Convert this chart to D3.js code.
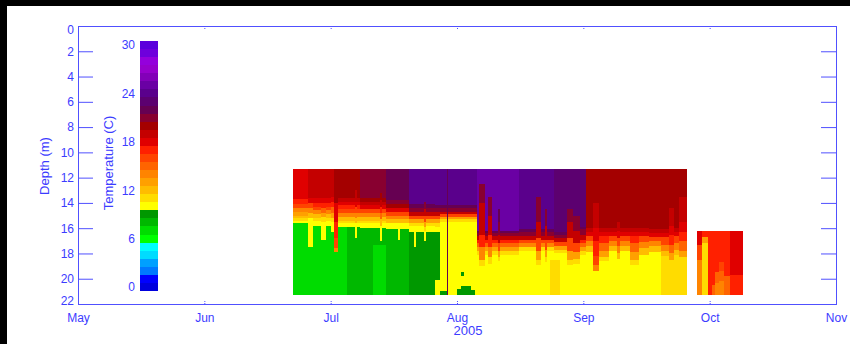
<!DOCTYPE html>
<html>
<head>
<meta charset="utf-8">
<script src="https://cdn.jsdelivr.net/npm/d3@7"></script>
<style>
  html, body { margin: 0; padding: 0; background: #000; }
  svg { display: block; font-family: "Liberation Sans", Arial, sans-serif; }
</style>
</head>
<body>
<div id="chart"></div>
<script>
// ---- data ----
const monthLabels = ['May', 'Jun', 'Jul', 'Aug', 'Sep', 'Oct', 'Nov'];
const yearLabel = '2005';
const depthTicks = [0, 2, 4, 6, 8, 10, 12, 14, 16, 18, 20, 22];
const tempTicks = [0, 6, 12, 18, 24, 30];

// one colour per degree C, 0..30
const tempColors = [
  '#0000dd', '#0000ff', '#0078ff', '#00a0ff', '#00dcff', '#00ffff',
  '#00ff00', '#00dc00', '#00b800', '#009800',
  '#ffff00', '#ffdc00', '#ffbc00', '#ffa000', '#ff8400', '#ff6400',
  '#ff4400', '#ff2000', '#e00000', '#c40000', '#a40000', '#880030',
  '#660052', '#5c0070', '#5a008c', '#6a00a4', '#8200b8', '#9600cc',
  '#9400dc', '#6e00dc', '#5a00dc'
];

const bottomDepth = 21.25;            // m, deepest sensor
const deployEnd = [268.7, 282.1];     // day of year each record stops

// [start day of year, [[depth where layer starts (m), temperature (C)], ...]]
const summerColumns = [
  [172.94, [[11.3,18],[13.7,17],[14.1,16],[14.4,14],[14.7,13],[15.0,12],[15.2,11],[15.4,10],[15.6,7]]],
  [176.5,  [[11.3,19],[13.6,18],[14.0,16],[14.4,14],[14.8,12],[15.2,10],[17.5,7]]],
  [177.7,  [[11.3,19],[13.6,18],[14.0,17],[14.3,16],[14.6,14],[14.9,12],[15.2,11],[15.4,10],[15.8,7]]],
  [179.6,  [[11.3,19],[13.6,18],[14.0,17],[14.4,15],[14.8,13],[15.1,11],[15.5,10],[16.9,7]]],
  [180.8,  [[11.3,19],[13.6,18],[14.0,17],[14.3,16],[14.6,14],[14.9,12],[15.2,11],[15.4,10],[15.8,7]]],
  [182.0,  [[11.3,19],[13.5,18],[13.9,17],[14.3,15],[14.8,13],[15.2,11],[15.5,10],[16.3,7]]],
  [182.9,  [[11.3,20],[14.0,18],[15.5,17],[16.8,16],[17.6,14],[17.9,7]]],
  [183.7,  [[11.3,20],[13.6,19],[13.9,18],[14.2,17],[14.5,16],[14.8,14],[15.1,12],[15.4,11],[15.6,10],[15.9,7]]],
  [186.1,  [[11.3,20],[13.6,19],[13.9,18],[14.2,17],[14.5,16],[14.8,14],[15.1,12],[15.4,11],[15.6,10],[15.9,8]]],
  [188.0,  [[11.3,20],[13.0,19],[13.9,18],[14.3,16],[14.8,14],[15.2,12],[15.6,10],[16.8,8]]],
  [188.5,  [[11.3,20],[13.6,19],[13.9,18],[14.2,17],[14.5,16],[14.8,14],[15.1,12],[15.4,11],[15.6,10],[15.9,8]]],
  [189.3,  [[11.3,21],[13.6,20],[13.9,19],[14.2,18],[14.5,16],[14.8,14],[15.1,12],[15.4,11],[15.6,10],[15.95,8]]],
  [192.3,  [[11.3,21],[13.6,20],[13.9,19],[14.2,18],[14.5,16],[14.8,14],[15.1,12],[15.4,11],[15.6,10],[15.95,8],[17.3,7]]],
  [194.2,  [[11.3,21],[13.2,20],[13.8,19],[14.3,17],[14.8,15],[15.3,12],[15.8,10],[17.0,8],[17.3,7]]],
  [194.6,  [[11.3,21],[13.6,20],[13.9,19],[14.2,18],[14.5,16],[14.8,14],[15.1,12],[15.4,11],[15.6,10],[15.95,8],[17.3,7]]],
  [195.5,  [[11.3,22],[13.8,21],[14.1,20],[14.4,18],[14.7,16],[15.0,14],[15.3,12],[15.6,10],[16.1,8]]],
  [198.4,  [[11.3,22],[13.8,21],[14.1,20],[14.4,18],[14.7,16],[15.0,14],[15.3,12],[15.6,10],[16.9,8]]],
  [199.1,  [[11.3,22],[13.8,21],[14.1,20],[14.4,18],[14.7,16],[15.0,14],[15.3,12],[15.6,10],[16.1,8]]],
  [201.3,  [[11.3,24],[14.1,22],[14.4,21],[14.7,19],[15.0,16],[15.3,13],[15.6,11],[15.8,10],[16.3,9]]],
  [202.5,  [[11.3,24],[14.1,22],[14.4,21],[14.7,19],[15.0,16],[15.3,13],[15.6,11],[15.8,10],[17.5,9]]],
  [202.9,  [[11.3,24],[14.1,22],[14.4,21],[14.7,19],[15.0,16],[15.3,13],[15.6,11],[15.8,10],[16.3,9]]],
  [205.0,  [[11.3,24],[13.9,21],[14.5,19],[15.0,16],[15.5,13],[15.9,11],[16.2,10],[17.0,9]]],
  [205.5,  [[11.3,24],[14.1,22],[14.4,21],[14.7,19],[15.0,16],[15.3,13],[15.6,11],[15.8,10],[16.3,9]]],
  [207.5,  [[11.3,24],[14.2,22],[14.4,21],[14.7,19],[15.0,16],[15.3,13],[15.6,11],[15.9,10],[16.3,9],[20.1,10]]],
  [208.9,  [[11.3,24],[14.2,22],[14.4,21],[14.7,19],[14.9,16],[15.1,13],[15.3,11],[15.5,10],[21.0,9]]],
  [210.6,  [[11.3,22]]],
  [210.9,  [[11.3,24],[14.2,22],[14.4,21],[14.7,19],[14.9,16],[15.1,13],[15.3,11],[15.5,10]]],
  [213.1,  [[11.3,24],[14.2,22],[14.4,21],[14.7,19],[14.9,16],[15.1,13],[15.3,11],[15.5,10],[20.8,9]]],
  [214.0,  [[11.3,24],[14.2,22],[14.4,21],[14.7,19],[14.9,16],[15.1,13],[15.3,11],[15.5,10],[19.5,9],[19.8,10],[20.6,9]]],
  [214.8,  [[11.3,24],[14.2,22],[14.4,21],[14.7,19],[14.9,16],[15.1,13],[15.3,11],[15.5,10],[20.6,9]]],
  [216.5,  [[11.3,24],[14.2,22],[14.4,21],[14.7,19],[14.9,16],[15.1,13],[15.3,11],[15.5,10],[20.9,9]]],
  [217.5,  [[11.3,24],[14.2,22],[14.4,21],[14.7,19],[14.9,16],[15.1,13],[15.3,11],[15.5,10]]],
  [217.8,  [[11.3,25],[16.2,22],[16.4,21],[16.6,19],[16.9,17],[17.2,15],[17.5,13],[17.8,11],[18.1,10]]],
  [218.5,  [[11.3,25],[12.5,21],[14.0,19],[16.5,17],[17.5,14],[18.5,11],[19.0,10]]],
  [219.8,  [[11.3,25],[16.2,22],[16.4,21],[16.6,19],[16.9,17],[17.2,15],[17.5,13],[17.8,11],[18.1,10]]],
  [220.5,  [[11.3,25],[13.5,21],[15.0,19],[16.5,17],[17.5,14],[18.3,11],[18.8,10]]],
  [221.7,  [[11.3,25],[16.2,22],[16.4,21],[16.6,19],[16.9,17],[17.2,15],[17.5,13],[17.8,11],[18.1,10]]],
  [223.0,  [[11.3,25],[14.5,22],[15.5,21],[16.5,19],[17.2,16],[17.8,13],[18.3,11],[18.6,10]]],
  [223.5,  [[11.3,25],[16.2,22],[16.4,21],[16.6,19],[16.9,17],[17.2,15],[17.5,13],[17.8,11],[18.1,10]]],
  [228.3,  [[11.3,24],[16.1,22],[16.3,21],[16.6,19],[16.9,16],[17.2,14],[17.5,11],[17.8,10]]],
  [232.5,  [[11.3,24],[13.5,21],[15.5,19],[16.8,16],[17.8,13],[18.5,11],[18.9,10]]],
  [233.7,  [[11.3,24],[16.1,22],[16.3,21],[16.6,19],[16.9,16],[17.2,14],[17.5,11],[17.8,10]]],
  [234.5,  [[11.3,24],[14.5,21],[15.8,19],[16.9,16],[17.7,13],[18.3,11],[18.7,10]]],
  [235.0,  [[11.3,24],[16.1,22],[16.3,21],[16.6,19],[16.9,16],[17.2,14],[17.5,11],[17.8,10]]],
  [235.7,  [[11.3,24],[16.1,22],[16.3,21],[16.6,19],[16.9,16],[17.2,14],[17.5,11],[17.8,10],[18.5,11]]],
  [236.9,  [[11.3,23],[16.3,22],[16.5,21],[16.8,19],[17.1,16],[17.4,13],[17.7,11],[18.0,10],[18.5,11]]],
  [238.2,  [[11.3,23],[16.3,22],[16.5,21],[16.8,19],[17.1,16],[17.4,13],[17.7,11],[18.0,10]]],
  [239.9,  [[11.3,23],[14.5,21],[15.5,19],[16.8,16],[17.8,13],[18.5,11],[18.9,10]]],
  [241.4,  [[11.3,23],[15.0,21],[16.2,19],[17.2,16],[17.9,13],[18.4,11],[18.8,10]]],
  [243.1,  [[11.3,23],[15.9,22],[16.1,21],[16.5,19],[16.9,17],[17.2,15],[17.5,13],[17.8,11],[18.1,10]]],
  [244.75, [[11.3,20],[16.0,19],[16.3,18],[16.6,16],[17.0,14],[17.4,12],[17.9,10]]],
  [246.2,  [[11.3,20],[14.0,19],[16.0,18],[17.0,17],[18.2,16],[18.9,14],[19.4,10]]],
  [247.8,  [[11.3,20],[16.0,19],[16.3,18],[16.6,17],[17.2,15],[17.8,13],[18.3,11],[18.6,10]]],
  [250.2,  [[11.3,20],[16.0,19],[16.3,18],[16.6,16],[17.0,14],[17.4,12],[17.8,10]]],
  [252.0,  [[11.3,20],[15.5,19],[16.2,18],[16.8,16],[17.4,14],[18.0,12],[18.4,10]]],
  [252.6,  [[11.3,20],[16.0,19],[16.3,18],[16.6,16],[17.0,14],[17.4,12],[17.8,10]]],
  [255.0,  [[11.3,20],[16.0,19],[16.3,18],[16.6,17],[17.2,15],[17.9,13],[18.5,11],[18.9,10]]],
  [257.3,  [[11.3,20],[16.0,19],[16.3,18],[16.6,16],[17.1,14],[17.6,12],[18.1,10]]],
  [259.7,  [[11.3,20],[16.1,19],[16.4,18],[16.7,16],[17.0,14],[17.4,12],[17.9,10]]],
  [262.5,  [[11.3,20],[16.1,19],[16.4,18],[16.7,16],[17.3,14],[17.8,12],[18.2,11]]],
  [264.4,  [[11.3,20],[14.4,19],[15.8,18],[16.5,17],[17.3,15],[18.0,13],[18.5,11]]],
  [265.6,  [[11.3,20],[16.0,19],[16.3,18],[16.6,16],[17.2,14],[17.7,12],[18.1,11]]],
  [266.8,  [[11.3,20],[13.5,19],[15.5,18],[16.3,17],[17.0,15],[17.8,13],[18.3,11]]]
];

const autumnColumns = [
  [271.0,  [[16.25,18],[17.3,16],[18.5,14]]],
  [272.07, [[16.25,17],[16.7,13],[17.2,11]]],
  [273.5,  [[16.25,17]]],
  [274.45, [[16.25,17],[20.5,15]]],
  [275.4,  [[16.25,17],[19.5,15],[20.3,14]]],
  [276.4,  [[16.25,17],[18.7,16],[19.4,15],[20.2,14]]],
  [277.4,  [[16.25,17],[19.8,15]]],
  [278.9,  [[16.25,18],[19.7,17]]]
];

// ---- layout ----
const W = 850, H = 344;
const plot = {left: 78, right: 836, top: 26, bottom: 304};
const blue = '#3c3cff';
const lineBlue = '#5050ff';

const svg = d3.select('#chart').append('svg')
  .attr('width', W)
  .attr('height', H);

svg.append('rect').attr('width', W).attr('height', H).attr('fill', '#000');
svg.append('rect').attr('x', 7).attr('y', 6).attr('width', W - 7).attr('height', H - 6).attr('fill', '#fff');

const monthDates = monthLabels.map((m, i) => new Date(2005, 4 + i, 1));
const step = (plot.right - plot.left) / (monthDates.length - 1);
const x = d3.scaleTime()
  .domain(monthDates)
  .range(monthDates.map((d, i) => plot.left + i * step));

const y = d3.scaleLinear()
  .domain([0, 22])
  .range([plot.top, plot.bottom]);

const dayToDate = (doy) => new Date(new Date(2005, 0, 1).getTime() + (doy - 1) * 864e5);

// flatten the columns into cells
function toCells(cols, end) {
  const cells = [];
  cols.forEach(([day, prof], i) => {
    const next = i < cols.length - 1 ? cols[i + 1][0] : end;
    const x0 = Math.round(x(dayToDate(day)));
    const x1 = Math.max(x0 + 1, Math.round(x(dayToDate(next))));
    prof.forEach(([d, t], j) => {
      const dNext = j < prof.length - 1 ? prof[j + 1][0] : bottomDepth;
      const y0 = Math.round(y(d));
      const y1 = Math.round(y(dNext));
      cells.push({x0, x1, y0, y1, t});
    });
  });
  return cells;
}

const cells = toCells(summerColumns, deployEnd[0]).concat(toCells(autumnColumns, deployEnd[1]));

svg.append('g')
  .attr('shape-rendering', 'crispEdges')
  .selectAll('rect')
  .data(cells)
  .join('rect')
    .attr('x', (d) => d.x0)
    .attr('y', (d) => d.y0)
    .attr('width', (d) => d.x1 - d.x0)
    .attr('height', (d) => d.y1 - d.y0)
    .attr('fill', (d) => tempColors[d.t]);

// frame
svg.append('rect')
  .attr('x', plot.left + 0.5)
  .attr('y', plot.top + 0.5)
  .attr('width', plot.right - plot.left)
  .attr('height', plot.bottom - plot.top)
  .attr('fill', 'none')
  .attr('stroke', lineBlue);

function styleAxis(g, size) {
  g.select('.domain').remove();
  g.selectAll('line').attr('stroke', lineBlue);
  g.selectAll('text')
    .attr('fill', blue)
    .attr('font-size', size)
    .attr('font-family', '"Liberation Sans", Arial, sans-serif');
}

// depth axes
const yLeft = svg.append('g')
  .attr('transform', `translate(${plot.left},0)`)
  .call(d3.axisLeft(y).tickValues(depthTicks).tickSize(-15).tickPadding(4))
  .call(styleAxis, 12);
yLeft.selectAll('.tick')
  .filter((d) => d === 0 || d === 22)
  .select('line').remove();
yLeft.selectAll('.tick text')
  .attr('dy', (d) => d === 0 ? '0.62em' : d === 22 ? '0.08em' : '0.32em');

svg.append('g')
  .attr('transform', `translate(${plot.right},0)`)
  .call(d3.axisRight(y).tickValues(depthTicks.slice(1, -1)).tickSize(-15).tickFormat(''))
  .call(styleAxis, 12);

// month axes (short dotted ticks inside the frame)
svg.append('g')
  .attr('transform', `translate(0,${plot.bottom})`)
  .call(d3.axisBottom(x).tickValues(monthDates).tickSize(-4).tickPadding(9)
    .tickFormat((d, i) => monthLabels[i]))
  .call(styleAxis, 12)
  .selectAll('line').attr('stroke-dasharray', '1,1');

svg.append('g')
  .attr('transform', `translate(0,${plot.top})`)
  .call(d3.axisTop(x).tickValues(monthDates).tickSize(-4).tickFormat(''))
  .call(styleAxis, 12)
  .selectAll('line').attr('stroke-dasharray', '1,1');

svg.append('text')
  .attr('x', 468)
  .attr('y', 335)
  .attr('text-anchor', 'middle')
  .attr('fill', blue)
  .attr('font-size', 13)
  .text(yearLabel);

svg.append('text')
  .attr('transform', 'translate(49,166) rotate(-90)')
  .attr('text-anchor', 'middle')
  .attr('fill', blue)
  .attr('font-size', 13)
  .text('Depth (m)');

// colour bar
const cY = d3.scaleLinear()
  .domain([-0.5, 30.5])
  .range([291, 41]);

svg.append('g')
  .attr('shape-rendering', 'crispEdges')
  .selectAll('rect')
  .data(tempColors)
  .join('rect')
    .attr('x', 140)
    .attr('width', 18)
    .attr('y', (c, t) => Math.round(cY(t + 0.5)))
    .attr('height', (c, t) => Math.round(cY(t - 0.5)) - Math.round(cY(t + 0.5)))
    .attr('fill', (c) => c);

svg.append('g')
  .attr('transform', 'translate(140,0)')
  .call(d3.axisLeft(cY).tickValues(tempTicks).tickSize(0).tickPadding(5))
  .call(styleAxis, 12);

svg.append('text')
  .attr('transform', 'translate(113,163) rotate(-90)')
  .attr('text-anchor', 'middle')
  .attr('fill', blue)
  .attr('font-size', 13)
  .text('Temperature (C)');
</script>
</body>
</html>
